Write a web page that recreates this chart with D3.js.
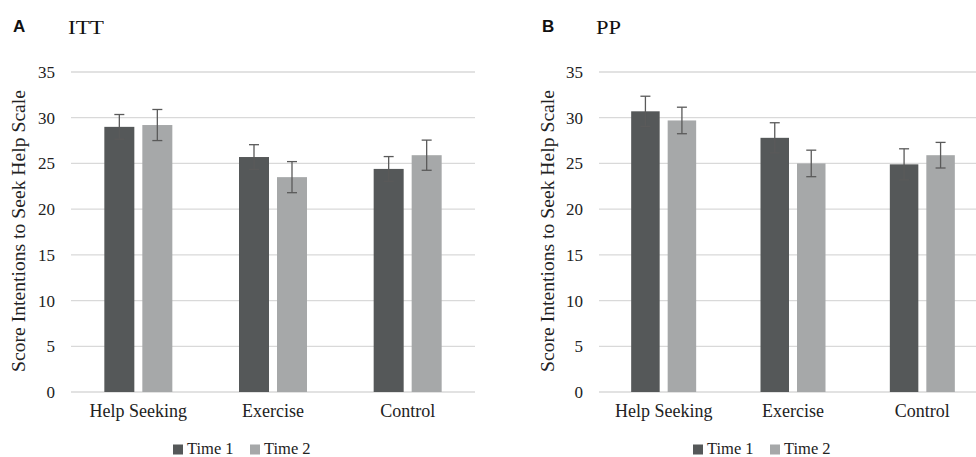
<!DOCTYPE html>
<html>
<head>
<meta charset="utf-8">
<script src="https://cdn.jsdelivr.net/npm/d3@7"></script>
<style>
  body { margin: 0; background: #fff; }
</style>
</head>
<body>
<script>
// groups and series
var groups = ["Help Seeking", "Exercise", "Control"];
var series = ["Time 1", "Time 2"];
var yTicks = [0, 5, 10, 15, 20, 25, 30, 35];

// panel A: ITT
var ittTime1 = [29.0, 25.7, 24.4];
var ittTime2 = [29.2, 23.5, 25.9];
var ittErr1 = [1.35, 1.35, 1.35];
var ittErr2 = [1.7, 1.7, 1.65];

// panel B: PP
var ppTime1 = [30.7, 27.8, 24.9];
var ppTime2 = [29.7, 25.0, 25.9];
var ppErr1 = [1.65, 1.65, 1.7];
var ppErr2 = [1.45, 1.45, 1.4];

var colours = ["#555859", "#a6a8a9"];
var serif = "Liberation Serif, Times New Roman, serif";

var svg = d3.select("body").append("svg")
    .attr("width", 976).attr("height", 457);

function drawPanel(opts) {
    var g = svg.append("g").attr("transform", "translate(" + opts.left + ",0)");
    var top = 72, bottom = 392;

    var x = d3.scaleBand().domain(groups).range([0, opts.width]);
    var barW = opts.barW, gap = opts.gap;
    var y = d3.scaleLinear().domain([0, 35]).range([bottom, top]);

    // gridlines
    g.selectAll(".grid")
        .data(yTicks)
        .enter().append("line")
        .attr("x1", 0).attr("x2", opts.gridW)
        .attr("y1", function(d) { return y(d); })
        .attr("y2", function(d) { return y(d); })
        .attr("stroke", "#d9d9d9").attr("stroke-width", 1.3);

    // y axis labels
    var yAxis = g.append("g")
        .call(d3.axisLeft(y).tickValues(yTicks).tickSize(0).tickPadding(16));
    yAxis.select(".domain").remove();
    yAxis.selectAll("text")
        .attr("font-family", serif).attr("font-size", 17)
        .attr("fill", "#222");

    // x axis labels
    var xAxis = g.append("g")
        .attr("transform", "translate(0," + bottom + ")")
        .call(d3.axisBottom(x).tickSize(0).tickPadding(12));
    xAxis.select(".domain").remove();
    xAxis.selectAll("text")
        .attr("font-family", serif).attr("font-size", 18)
        .attr("fill", "#222");

    var rows = [];
    groups.forEach(function(grp, i) {
        rows.push({ g: grp, s: 0, v: opts.t1[i], e: opts.e1[i] });
        rows.push({ g: grp, s: 1, v: opts.t2[i], e: opts.e2[i] });
    });
    function cx(d) {
        var c = x(d.g) + x.bandwidth() / 2;
        return d.s === 0 ? c - gap / 2 - barW / 2 : c + gap / 2 + barW / 2;
    }

    g.selectAll(".bar")
        .data(rows)
        .enter().append("rect")
        .attr("x", function(d) { return cx(d) - barW / 2; })
        .attr("width", barW)
        .attr("y", function(d) { return y(d.v); })
        .attr("height", function(d) { return bottom - y(d.v); })
        .attr("fill", function(d) { return colours[d.s]; });

    // error bars
    var eb = g.selectAll(".err").data(rows).enter().append("g")
        .attr("stroke", "#5a5a5a").attr("stroke-width", 1.3);
    eb.append("line")
        .attr("x1", cx).attr("x2", cx)
        .attr("y1", function(d) { return y(d.v + d.e); })
        .attr("y2", function(d) { return y(d.v - d.e); });
    eb.append("line")
        .attr("x1", function(d) { return cx(d) - 5; })
        .attr("x2", function(d) { return cx(d) + 5; })
        .attr("y1", function(d) { return y(d.v + d.e); })
        .attr("y2", function(d) { return y(d.v + d.e); });
    eb.append("line")
        .attr("x1", function(d) { return cx(d) - 5; })
        .attr("x2", function(d) { return cx(d) + 5; })
        .attr("y1", function(d) { return y(d.v - d.e); })
        .attr("y2", function(d) { return y(d.v - d.e); });

    // y axis title
    g.append("text")
        .attr("transform", "translate(" + opts.titleX + "," + 231 + ") rotate(-90)")
        .attr("text-anchor", "middle")
        .attr("font-family", serif).attr("font-size", 18.5)
        .attr("textLength", 282).attr("lengthAdjust", "spacingAndGlyphs")
        .attr("fill", "#222")
        .text("Score Intentions to Seek Help Scale");

    // panel letter and heading
    svg.append("text")
        .attr("x", opts.letterX).attr("y", 32)
        .attr("font-family", "Liberation Sans, Arial, sans-serif")
        .attr("font-weight", "bold").attr("font-size", 17)
        .attr("fill", "#111")
        .text(opts.letter);
    svg.append("text")
        .attr("x", opts.headX).attr("y", 34)
        .attr("font-family", serif).attr("font-size", 19)
        .attr("textLength", opts.headW).attr("lengthAdjust", "spacingAndGlyphs")
        .attr("fill", "#111")
        .text(opts.heading);

    // legend
    var lg = svg.append("g").attr("transform", "translate(" + opts.legendX + ",450)");
    var offs = [0, 77];
    series.forEach(function(s, i) {
        lg.append("rect")
            .attr("x", offs[i]).attr("y", -5.5)
            .attr("width", 10).attr("height", 10)
            .attr("fill", colours[i]);
        lg.append("text")
            .attr("x", offs[i] + 14).attr("y", 4)
            .attr("font-family", serif).attr("font-size", 16.5)
            .attr("fill", "#222")
            .text(s);
    });
}

drawPanel({
    left: 71, width: 404, gridW: 404, barW: 30, gap: 8,
    t1: ittTime1, t2: ittTime2, e1: ittErr1, e2: ittErr2,
    titleX: -46, letter: "A", letterX: 13, heading: "ITT", headX: 68, headW: 36,
    legendX: 173
});

drawPanel({
    left: 599, width: 388, gridW: 388, barW: 28.5, gap: 8,
    t1: ppTime1, t2: ppTime2, e1: ppErr1, e2: ppErr2,
    titleX: -45, letter: "B", letterX: 542, heading: "PP", headX: 596, headW: 25,
    legendX: 693
});
</script>
</body>
</html>
